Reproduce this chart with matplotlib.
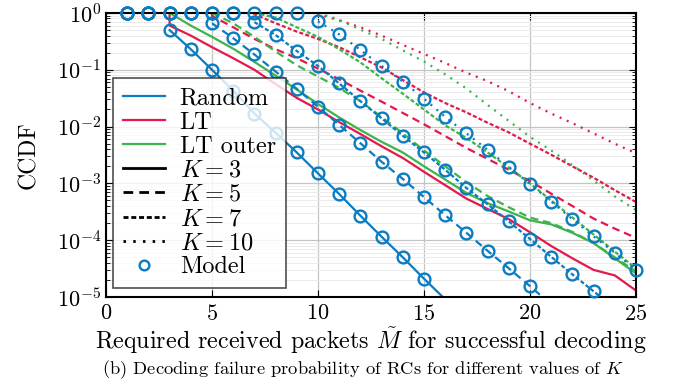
import matplotlib
matplotlib.use('Agg')
import matplotlib.pyplot as plt
from matplotlib.lines import Line2D

plt.rcParams['font.family'] = 'serif'
plt.rcParams['font.serif'] = ['cmr10']
plt.rcParams['mathtext.fontset'] = 'cm'
plt.rcParams['axes.formatter.use_mathtext'] = True

# colours
blue = '#0a7cc2'
red = '#e3194b'
green = '#3cb44b'

# line style per K
styles = {3: '-', 5: (0, (3.5, 2.2)), 7: (0, (1.8, 1.0)), 10: (0, (0.9, 2.6))}

# random codes (simulation), x starts at K
rand_x = {3: list(range(3, 17)), 5: list(range(5, 22)), 7: list(range(7, 25)), 10: list(range(10, 26))}
rand_k3 = [5.0e-1, 2.3e-1, 1.0e-1, 4.3e-2, 1.7e-2, 7.8e-3, 3.5e-3, 1.5e-3, 6.5e-4, 2.7e-4, 1.15e-4, 5.0e-5, 2.1e-5, 9.1e-6]
rand_k5 = [6.6e-1, 3.6e-1, 1.86e-1, 9.3e-2, 4.6e-2, 2.24e-2, 1.07e-2, 5.1e-3, 2.4e-3, 1.2e-3, 5.75e-4, 2.75e-4, 1.35e-4,
           6.5e-5, 3.2e-5, 1.55e-5, 7.4e-6]
rand_k7 = [6.9e-1, 4.1e-1, 2.14e-1, 1.17e-1, 5.75e-2, 2.8e-2, 1.4e-2, 6.9e-3, 3.5e-3, 1.74e-3, 8.3e-4, 4.3e-4, 2.14e-4,
           1.05e-4, 5.1e-5, 2.5e-5, 1.26e-5, 6.3e-6]
rand_k10 = [7.1e-1, 4.2e-1, 2.24e-1, 1.17e-1, 6.2e-2, 3.1e-2, 1.48e-2, 7.6e-3, 3.9e-3, 1.95e-3, 9.8e-4, 4.8e-4, 2.35e-4,
            1.17e-4, 6.0e-5, 3.0e-5]

# model points, x from 1
model_x = {3: list(range(1, 16)), 5: list(range(1, 21)), 7: list(range(1, 24)), 10: list(range(1, 26))}
model_k3 = [1, 1] + rand_k3[:13]
model_k5 = [1, 1, 1, 1] + rand_k5[:16]
model_k7 = [1] * 6 + rand_k7[:17]
model_k10 = [1] * 9 + rand_k10

# LT codes (drop at x = K)
lt_x = {3: [3] + list(range(3, 26)), 5: [5] + list(range(5, 26)), 7: [7] + list(range(7, 26)), 10: [10] + list(range(10, 26))}
lt_k3 = [1.0, 6.0e-1, 4.0e-1, 2.5e-1, 1.6e-1, 1.0e-1, 5.6e-2, 3.2e-2, 2.0e-2, 1.2e-2, 7.4e-3, 4.5e-3, 2.8e-3, 1.6e-3,
         9.3e-4, 5.4e-4, 3.55e-4, 2.35e-4, 1.38e-4, 7.9e-5, 4.8e-5, 3.0e-5, 2.4e-5, 1.3e-5]
lt_k5 = [1.0, 8.9e-1, 5.6e-1, 3.5e-1, 2.3e-1, 1.6e-1, 1.05e-1, 6.8e-2, 4.3e-2, 2.75e-2, 1.74e-2, 1.1e-2, 6.8e-3, 4.2e-3,
         2.7e-3, 1.74e-3, 1.1e-3, 6.6e-4, 4.0e-4, 2.4e-4, 1.6e-4, 1.1e-4]
lt_k7 = [1.0, 9.5e-1, 6.6e-1, 4.7e-1, 3.5e-1, 2.5e-1, 1.66e-1, 1.1e-1, 6.6e-2, 4.0e-2, 2.6e-2, 1.78e-2, 1.17e-2, 7.9e-3,
         5.0e-3, 3.2e-3, 2.0e-3, 1.26e-3, 7.6e-4, 4.7e-4]
lt_k10 = [1.0, 9.5e-1, 7.4e-1, 5.6e-1, 4.0e-1, 2.75e-1, 1.9e-1, 1.32e-1, 8.9e-2, 6.3e-2, 4.2e-2, 2.6e-2, 1.7e-2, 1.15e-2,
          7.6e-3, 5.0e-3, 3.4e-3]

# LT outer codes, x starts at K
out_x = {3: list(range(3, 26)), 5: list(range(5, 26)), 7: list(range(7, 26)), 10: list(range(10, 26))}
out_k3 = [1.0, 6.0e-1, 3.8e-1, 2.35e-1, 1.38e-1, 7.9e-2, 4.5e-2, 2.5e-2, 1.45e-2, 8.7e-3, 5.4e-3, 3.5e-3, 2.0e-3, 1.17e-3,
          6.8e-4, 4.5e-4, 3.2e-4, 2.24e-4, 1.9e-4, 1.35e-4, 8.9e-5, 4.8e-5, 2.6e-5]
out_k5 = [1.0, 6.6e-1, 3.8e-1, 2.1e-1, 1.2e-1, 7.6e-2, 4.8e-2, 2.8e-2, 1.48e-2, 7.6e-3, 3.8e-3, 2.0e-3, 1.05e-3, 6.0e-4,
          3.8e-4, 2.5e-4, 2.0e-4, 1.4e-4, 8.9e-5, 5.0e-5, 2.8e-5]
out_k7 = [1.0, 8.3e-1, 5.6e-1, 3.8e-1, 2.3e-1, 1.35e-1, 7.1e-2, 3.8e-2, 2.0e-2, 1.05e-2, 6.3e-3, 3.5e-3, 1.9e-3, 1.0e-3,
          5.0e-4, 2.5e-4, 1.26e-4, 6.3e-5, 3.2e-5]
out_k10 = [1.0, 7.6e-1, 5.1e-1, 3.5e-1, 2.2e-1, 1.4e-1, 8.3e-2, 4.7e-2, 2.4e-2, 1.26e-2, 6.6e-3, 3.8e-3, 2.1e-3, 1.12e-3,
           5.9e-4, 3.4e-4]

rand_y = {3: rand_k3, 5: rand_k5, 7: rand_k7, 10: rand_k10}
model_y = {3: model_k3, 5: model_k5, 7: model_k7, 10: model_k10}
lt_y = {3: lt_k3, 5: lt_k5, 7: lt_k7, 10: lt_k10}
out_y = {3: out_k3, 5: out_k5, 7: out_k7, 10: out_k10}

fig = plt.figure(figsize=(6.77, 3.82), dpi=100)
ax = fig.add_axes([0.1566, 0.2225, 0.7828, 0.7435])

lw = 1.6
for k in [3, 5, 7, 10]:
    ax.plot(lt_x[k], lt_y[k], color=red, lw=lw, linestyle=styles[k])
    ax.plot(out_x[k], out_y[k], color=green, lw=lw, linestyle=styles[k])
for k in [3, 5, 7, 10]:
    ax.plot(rand_x[k], rand_y[k], color=blue, lw=lw, linestyle=styles[k])
    ax.plot(model_x[k], model_y[k], 'o', mfc='none', mec=blue, mew=1.7, ms=8.5, clip_on=False, zorder=5)

ax.set_yscale('log')
ax.set_xlim(0, 25)
ax.set_ylim(1e-5, 1)
ax.set_xticks([0, 5, 10, 15, 20, 25])
ax.grid(which='major', color='#c4c4c4', lw=0.9)
ax.grid(which='minor', axis='y', color='#ebebeb', lw=0.7)
ax.set_axisbelow(True)
ax.tick_params(which='both', direction='in', top=True, right=True, labelsize=16)
ax.tick_params(axis='x', pad=5)
ax.tick_params(which='major', length=5, width=0.8)
ax.tick_params(which='minor', length=3, width=0.6)
for s in ax.spines.values():
    s.set_linewidth(1.5)

ax.set_ylabel('CCDF', fontsize=17, labelpad=12)
ax.set_xlabel(r'Required received packets $\tilde{M}$ for successful decoding', fontsize=17.3, labelpad=1)

handles = [
    Line2D([], [], color=blue, lw=lw),
    Line2D([], [], color=red, lw=lw),
    Line2D([], [], color=green, lw=lw),
    Line2D([], [], color='black', lw=2, linestyle=styles[3]),
    Line2D([], [], color='black', lw=2, linestyle=styles[5]),
    Line2D([], [], color='black', lw=2, linestyle=styles[7]),
    Line2D([], [], color='black', lw=2, linestyle=styles[10]),
    Line2D([], [], color=blue, marker='o', linestyle='none', mfc='none', mew=1.7, ms=7),
]
labels = ['Random', 'LT', 'LT outer', '$K=3$', '$K=5$', '$K=7$', '$K=10$', 'Model']
leg = ax.legend(handles, labels, loc='lower left', bbox_to_anchor=(0.013, 0.032), borderaxespad=0,
                fontsize=17.5, handlelength=1.75, labelspacing=0.08, borderpad=0.4, handletextpad=0.6,
                fancybox=False, framealpha=0.8, edgecolor='#222222')
leg.get_frame().set_linewidth(1.2)

fig.text(0.537, 0.032, r'(b) Decoding failure probability of RCs for different values of $K$',
         ha='center', va='center', fontsize=13.3)

fig.savefig('out.png', dpi=100)
